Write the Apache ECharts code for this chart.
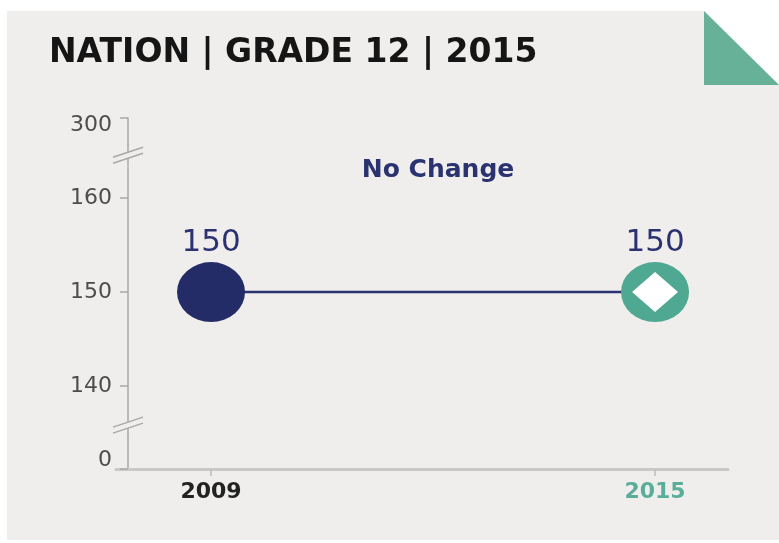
<!DOCTYPE html>
<html>
<head>
<meta charset="utf-8">
<script src="https://cdn.jsdelivr.net/npm/echarts@6/dist/echarts.min.js"></script>
<style>
  html, body { margin: 0; padding: 0; background: #fff; }
  #main { width: 779px; height: 543px; }
</style>
</head>
<body>
<div id="main"></div>
<script>
const years = [2009, 2015];
const scores = [150, 150];
const yTicks = [0, 140, 150, 160, 300];
const yBreaks = [[3.5, 137], [163.4, 297.2]];
const titleText = 'NATION | GRADE 12 | 2015';
const changeText = 'No Change';

const navy = '#242c68';
const teal = '#4fa891';
const panel = '#efeeec';
const axisGray = '#a9a9a9';
const font = 'DejaVu Sans';

const pointColors = [navy, teal];

const chart = echarts.init(document.getElementById('main'));

const option = {
  backgroundColor: '#fff',
  animation: false,
  graphic: [
    {
      type: 'polygon', z: -10, silent: true,
      shape: { points: [[7, 11], [704, 11], [779, 85], [779, 540], [7, 540]] },
      style: { fill: panel }
    },
    {
      type: 'polygon', z: -9, silent: true,
      shape: { points: [[704, 11], [704, 85], [779, 85]] },
      style: { fill: '#67b198' }
    }
  ],
  title: [
    {
      text: titleText,
      left: 49, top: 37, padding: 0,
      textStyle: { fontFamily: font, fontSize: 33, fontWeight: 'bold', color: '#151515' }
    },
    {
      text: changeText,
      left: 438, top: 158, padding: 0, textAlign: 'center',
      textStyle: { fontFamily: font, fontSize: 25, fontWeight: 'bold', color: '#2a3270' }
    }
  ],
  grid: { left: 116, right: 51, top: 118, bottom: 74 },
  xAxis: {
    type: 'value',
    min: 2007.716,
    max: 2015.986,
    splitLine: { show: false },
    axisLine: { lineStyle: { color: '#c8c8c8', width: 3 } },
    axisTick: { customValues: years, length: 7, lineStyle: { color: '#bdbdbd', width: 1.5 } },
    axisLabel: {
      customValues: years,
      margin: 12,
      formatter: v => (v === years[0] ? '{a|' + v + '}' : '{b|' + v + '}'),
      rich: {
        a: { fontFamily: font, fontSize: 22, fontWeight: 'bold', color: '#222' },
        b: { fontFamily: font, fontSize: 22, fontWeight: 'bold', color: '#5aae99' }
      }
    }
  },
  yAxis: {
    type: 'value',
    min: 0,
    max: 300,
    offset: -12,
    breaks: yBreaks.map(b => ({ start: b[0], end: b[1], gap: 2.34 })),
    breakArea: { show: false },
    splitLine: { show: false },
    axisLine: { show: true, lineStyle: { color: axisGray, width: 1.5 } },
    axisTick: { show: true, customValues: yTicks, length: 8, lineStyle: { color: axisGray, width: 1.5 } },
    axisLabel: {
      customValues: yTicks,
      margin: 16,
      fontFamily: font, fontSize: 22, color: '#4d4d4d',
      formatter: v => (v === 0 ? '{lo|0}' : v === 300 ? '{hi|300}' : '{n|' + v + '}'),
      rich: {
        n: { fontFamily: font, fontSize: 22, color: '#4d4d4d' },
        lo: { fontFamily: font, fontSize: 22, color: '#4d4d4d', padding: [0, 0, 18, 0] },
        hi: { fontFamily: font, fontSize: 22, color: '#4d4d4d', padding: [14, 0, 0, 0] }
      }
    }
  },
  series: [
    {
      type: 'line',
      symbol: 'circle',
      symbolSize: [68, 60],
      lineStyle: { color: '#2b3270', width: 2.5 },
      data: years.map((y, i) => ({ value: [y, scores[i]], itemStyle: { color: pointColors[i] } })),
      label: {
        show: true, position: 'top', distance: 4,
        formatter: p => p.value[1],
        fontFamily: font, fontSize: 31, color: '#2a3270'
      },
      z: 3
    },
    {
      type: 'scatter',
      symbol: 'diamond',
      symbolSize: [46, 40],
      silent: true,
      itemStyle: { color: '#ffffff', opacity: 1 },
      data: [[years[1], scores[1]]],
      z: 4
    }
  ]
};

chart.setOption(option);

// break marks on the y axis: bridge the axis line, then the "//" cut
const axisX = 128;
const marks = yBreaks.map((b, i) => {
  const y0 = chart.convertToPixel({ yAxisIndex: 0 }, b[0]);
  const y1 = chart.convertToPixel({ yAxisIndex: 0 }, b[1]);
  const yc = (y0 + y1) / 2;
  const dx = 15, dy = 5, h = 3;
  return [
    {
      type: 'line', id: 'bv' + i, z: 9, silent: true,
      shape: { x1: axisX, y1: y0, x2: axisX, y2: y1 },
      style: { stroke: axisGray, lineWidth: 1.5 }
    },
    {
      type: 'polygon', id: 'bf' + i, z: 10, silent: true,
      shape: { points: [[axisX - dx, yc + dy - h], [axisX + dx, yc - dy - h], [axisX + dx, yc - dy + h], [axisX - dx, yc + dy + h]] },
      style: { fill: panel }
    },
    {
      type: 'line', id: 'bl' + i, z: 11, silent: true,
      shape: { x1: axisX - dx, y1: yc + dy - h, x2: axisX + dx, y2: yc - dy - h },
      style: { stroke: axisGray, lineWidth: 1.5 }
    },
    {
      type: 'line', id: 'bm' + i, z: 11, silent: true,
      shape: { x1: axisX - dx, y1: yc + dy + h, x2: axisX + dx, y2: yc - dy + h },
      style: { stroke: axisGray, lineWidth: 1.5 }
    }
  ];
}).flat();

chart.setOption({ graphic: option.graphic.concat(marks) });
</script>
</body>
</html>
